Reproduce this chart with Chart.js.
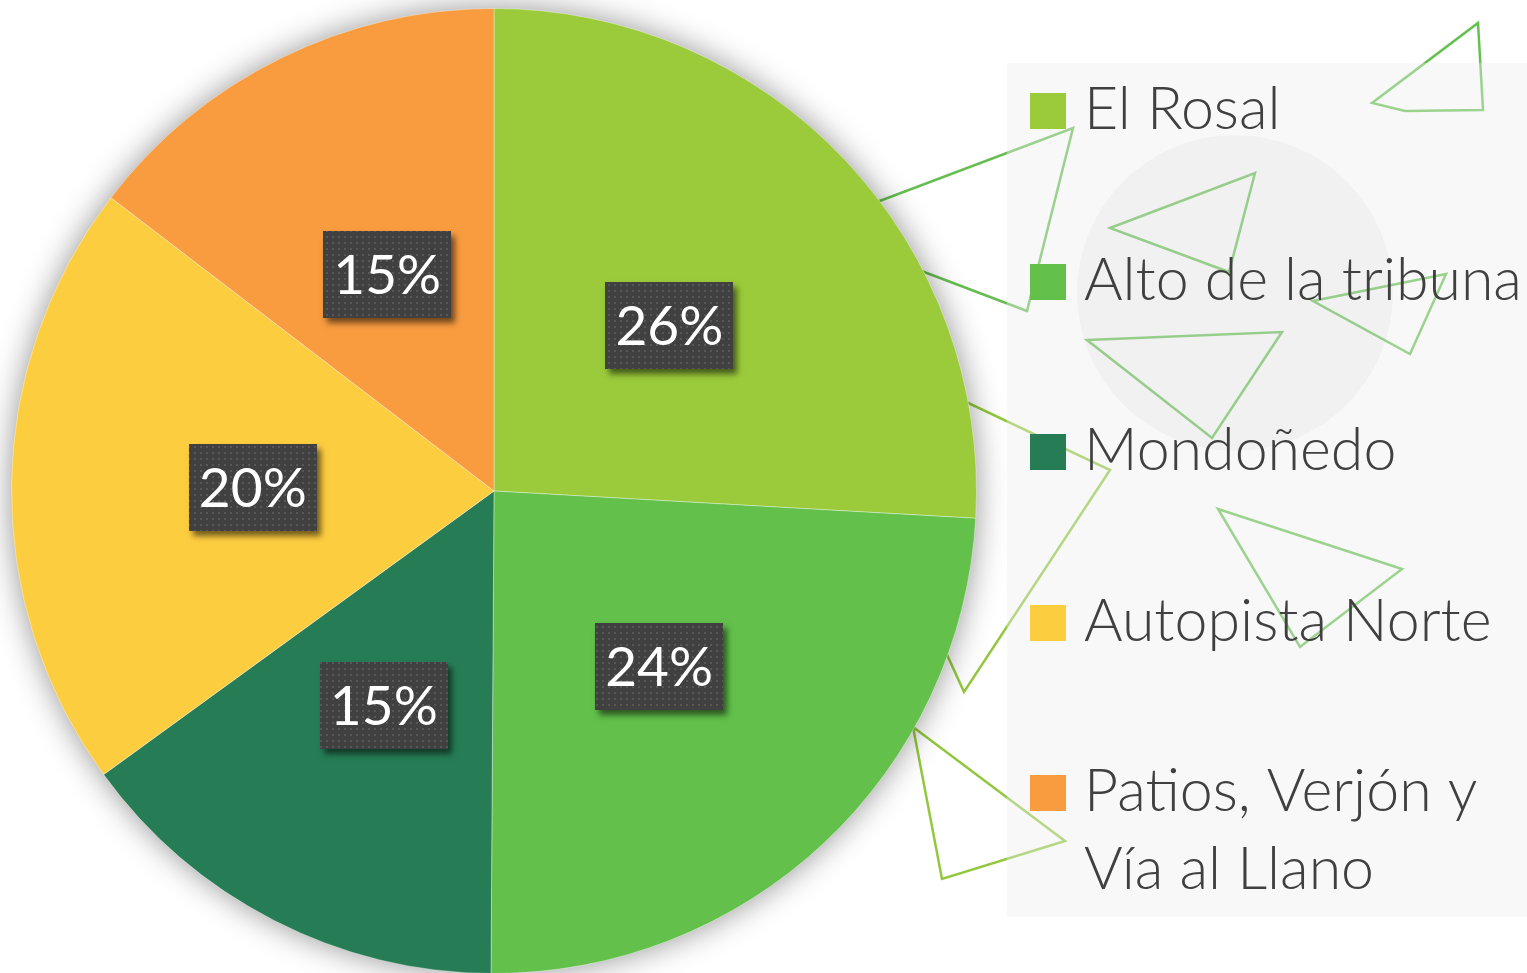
<!DOCTYPE html>
<html lang="es">
<head>
<meta charset="utf-8">
<title>Distribución por zona</title>
<script src="https://cdn.jsdelivr.net/npm/chart.js@4.4.1/dist/chart.umd.min.js"></script>
<style>
  html, body { margin: 0; padding: 0; background: #ffffff; overflow: hidden; }
  #wrap { position: relative; width: 1527px; height: 973px; overflow: hidden; }
  canvas { position: absolute; left: 0; top: 0; }
</style>
</head>
<body>
<div id="wrap"><canvas id="zonasChart" width="1527" height="990"></canvas></div>
<script>
const categories = ['El Rosal', 'Alto de la tribuna', 'Mondoñedo', 'Autopista Norte', 'Patios, Verjón y Vía al Llano'];
const percentValues = [25.9, 24.2, 14.9, 20.4, 14.6];
const sliceColors = ['#9BCB3B', '#62C04B', '#267D55', '#FDCD40', '#F99C40'];

// Adornos del fondo (triángulos en línea verde)
const decoTriangles = [
  { pts: [[1478, 23], [1483, 110], [1405, 111], [1372, 103]], color: 'rgba(93,190,70,0.95)' },
  { pts: [[808, 228], [1073, 128], [1027, 311]], color: 'rgba(93,187,70,0.95)' },
  { pts: [[1110, 228], [1255, 173], [1229, 272]], color: 'rgba(93,190,70,0.95)' },
  { pts: [[1313, 301], [1446, 274], [1410, 354]], color: 'rgba(93,190,70,0.95)' },
  { pts: [[1087, 340], [1282, 332], [1212, 438]], color: 'rgba(93,190,70,0.95)' },
  { pts: [[1218, 509], [1402, 569], [1300, 647]], color: 'rgba(93,190,70,0.95)' },
  { pts: [[795, 321], [1110, 470], [964, 692]], color: 'rgba(140,196,52,0.95)' },
  { pts: [[913, 727], [1065, 841], [942, 879]], color: 'rgba(140,196,52,0.95)' }
];

const LABEL_FONT = '"Lato", "Open Sans", sans-serif';
const LEGEND_FONT = '"Lato", "Open Sans", sans-serif';

// tamaño de fuente para que un texto mida un ancho dado
function fitFontSize(ctx, text, targetWidth, weight, family) {
  ctx.font = `${weight} 100px ${family}`;
  return 100 * targetWidth / ctx.measureText(text).width;
}

function wrapText(ctx, text, maxWidth) {
  const words = text.split(' ');
  const lines = [];
  let line = '';
  words.forEach(w => {
    const test = line ? line + ' ' + w : w;
    if (line && ctx.measureText(test).width > maxWidth) {
      lines.push(line);
      line = w;
    } else {
      line = test;
    }
  });
  if (line) lines.push(line);
  return lines;
}

// patrón de puntitos para las cajas de etiqueta
function makeDotPattern(ctx) {
  const pc = document.createElement('canvas');
  pc.width = 6;
  pc.height = 6;
  const p = pc.getContext('2d');
  p.fillStyle = '#404040';
  p.fillRect(0, 0, 6, 6);
  p.fillStyle = '#575757';
  p.fillRect(2, 2, 2, 2);
  return ctx.createPattern(pc, 'repeat');
}

const backgroundPlugin = {
  id: 'backgroundDeco',
  beforeDatasetsDraw(chart) {
    const ctx = chart.ctx;
    ctx.save();
    ctx.lineWidth = 2.5;
    ctx.lineJoin = 'miter';
    decoTriangles.forEach(t => {
      ctx.strokeStyle = t.color;
      ctx.beginPath();
      t.pts.forEach((p, i) => (i ? ctx.lineTo(p[0], p[1]) : ctx.moveTo(p[0], p[1])));
      ctx.closePath();
      ctx.stroke();
    });
    ctx.restore();

    // sombra suave del pastel
    const arc = chart.getDatasetMeta(0).data[0];
    if (!arc) return;
    ctx.save();
    ctx.shadowColor = 'rgba(0,0,0,0.45)';
    ctx.shadowBlur = 32;
    ctx.fillStyle = '#ffffff';
    ctx.beginPath();
    ctx.arc(arc.x, arc.y, arc.outerRadius - 1, 0, Math.PI * 2);
    ctx.fill();
    ctx.restore();
  }
};

const percentLabelPlugin = {
  id: 'percentLabels',
  afterDatasetsDraw(chart) {
    const ctx = chart.ctx;
    const pattern = makeDotPattern(ctx);
    const fontSize = 55;
    const boxH = 87;
    chart.getDatasetMeta(0).data.forEach((arc, i) => {
      const pos = arc.tooltipPosition();
      const text = Math.round(percentValues[i]) + '%';
      ctx.save();
      ctx.font = `normal ${fontSize}px ${LABEL_FONT}`;
      const tw = ctx.measureText(text).width;
      const boxW = Math.round(tw + 20);
      const bx = Math.round(pos.x - boxW / 2);
      const by = Math.round(pos.y - boxH / 2);
      ctx.shadowColor = 'rgba(0,0,0,0.55)';
      ctx.shadowBlur = 6;
      ctx.shadowOffsetX = 4;
      ctx.shadowOffsetY = 5;
      ctx.fillStyle = '#404040';
      ctx.fillRect(bx, by, boxW, boxH);
      ctx.shadowColor = 'transparent';
      ctx.fillStyle = pattern;
      ctx.fillRect(bx, by, boxW, boxH);
      ctx.fillStyle = '#ffffff';
      ctx.textAlign = 'center';
      ctx.textBaseline = 'alphabetic';
      ctx.fillText(text, pos.x, by + boxH / 2 + fontSize * 0.36);
      ctx.restore();
    });
  }
};

const sideLegendPlugin = {
  id: 'sideLegend',
  afterDraw(chart) {
    const ctx = chart.ctx;
    ctx.save();
    // caja gris translúcida
    ctx.fillStyle = 'rgba(238,238,238,0.4)';
    ctx.fillRect(1007, 63, 520, 854);
    ctx.fillStyle = 'rgba(0,0,0,0.028)';
    ctx.beginPath();
    ctx.arc(1235, 293, 158, 0, Math.PI * 2);
    ctx.fill();

    const fontSize = fitFontSize(ctx, 'Alto de la tribuna', 438, '300', LEGEND_FONT);
    ctx.font = `300 ${fontSize}px ${LEGEND_FONT}`;
    ctx.textAlign = 'left';
    ctx.textBaseline = 'alphabetic';
    const firstBaseline = 129;
    const rowStep = 170.5;
    const lineHeight = 78;
    categories.forEach((name, i) => {
      const baseY = firstBaseline + i * rowStep;
      ctx.fillStyle = sliceColors[i];
      ctx.fillRect(1030, Math.round(baseY - 36), 36, 36);
      ctx.fillStyle = '#404040';
      const lines = wrapText(ctx, name, 443);
      lines.forEach((ln, j) => ctx.fillText(ln, 1084, baseY + j * lineHeight));
    });
    ctx.restore();
  }
};

const ctx = document.getElementById('zonasChart').getContext('2d');
new Chart(ctx, {
  type: 'pie',
  data: {
    labels: categories,
    datasets: [{
      data: percentValues,
      backgroundColor: sliceColors,
      borderColor: 'rgba(255,255,255,0.35)',
      borderWidth: 1
    }]
  },
  options: {
    responsive: false,
    animation: false,
    layout: {
      padding: { left: 11, top: 8, right: 550, bottom: 16 }
    },
    plugins: {
      legend: { display: false },
      tooltip: { enabled: false }
    }
  },
  plugins: [backgroundPlugin, percentLabelPlugin, sideLegendPlugin]
});
</script>
</body>
</html>
